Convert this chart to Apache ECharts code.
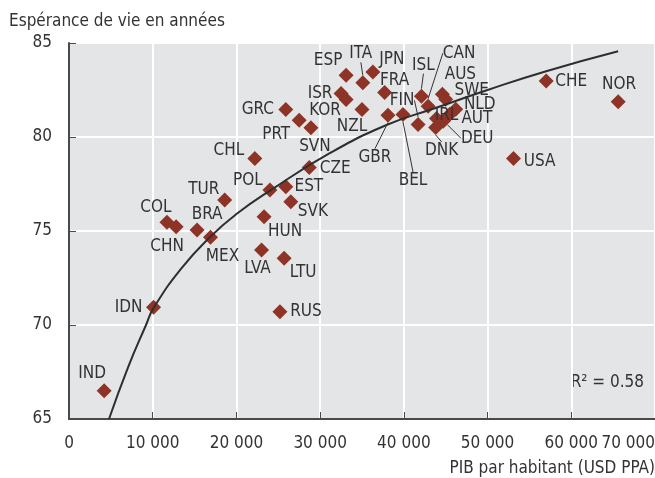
<!DOCTYPE html>
<html>
<head>
<meta charset="utf-8">
<script src="https://cdn.jsdelivr.net/npm/echarts@6/dist/echarts.min.js"></script>
<style>
  html, body { margin: 0; padding: 0; background: #fff; }
  #chart { width: 655px; height: 478px; }
</style>
</head>
<body>
<div id="chart"></div>
<script>
// country codes, GDP per capita (USD PPP) and life expectancy
const countries = ['IND', 'IDN', 'COL', 'CHN', 'BRA', 'MEX', 'TUR', 'CHL', 'POL', 'EST', 'SVK',
  'HUN', 'LVA', 'LTU', 'RUS', 'CZE', 'SVN', 'PRT', 'GRC', 'ISR', 'KOR', 'NZL', 'ESP', 'ITA',
  'JPN', 'FRA', 'GBR', 'BEL', 'FIN', 'ISL', 'CAN', 'AUS', 'SWE', 'NLD', 'AUT', 'IRL', 'DEU',
  'DNK', 'CHE', 'NOR', 'USA'];
const gdp = [4200, 10100, 11700, 12800, 15300, 16900, 18600, 22200, 24000, 25900, 26500,
  23300, 23000, 25700, 25200, 28700, 28900, 27500, 25900, 32500, 33100, 35000, 33100, 35100,
  36300, 37700, 38100, 39900, 41700, 42100, 42900, 44600, 45000, 46200, 45500, 43900, 44700,
  43800, 57000, 65600, 53100];
const lifeExp = [66.5, 70.95, 75.46, 75.23, 75.05, 74.67, 76.65, 78.86, 77.18, 77.35, 76.56,
  75.76, 73.99, 73.55, 70.71, 78.38, 80.49, 80.89, 81.46, 82.31, 81.99, 81.46, 83.28, 82.88,
  83.46, 82.37, 81.16, 81.2, 80.67, 82.17, 81.64, 82.28, 82.01, 81.48, 81.21, 80.99, 80.84,
  80.51, 82.98, 81.87, 78.86];

// trend curve, points
const trendGdp = [4780, 7100, 9200, 10100, 13400, 16900, 20000, 24200, 31200, 38000, 43500, 50000, 57000, 65600];
const trendLife = [65, 67.8, 70, 70.9, 73, 74.7, 75.9, 77.2, 79.15, 80.65, 81.5, 82.5, 83.5, 84.56];

const rSquared = '0.58';

// label placement (pixel offset of the label centre from the marker)
const labelOffset = {
  IND: [-12, -17], IDN: [-25, 0], COL: [-11, -15], CHN: [-9, 20], BRA: [10, -15],
  MEX: [12, 19], TUR: [-21, -10], CHL: [-26, -8], POL: [-22, -9], EST: [23, 0],
  SVK: [22, 10], HUN: [21, 15], LVA: [-4, 19], LTU: [19, 14], RUS: [26, 0],
  CZE: [26, 1], SVN: [4, 19], PRT: [-23, 14], GRC: [-28, 0], ISR: [-21, 0],
  KOR: [-21, 11], NZL: [-10, 17], ESP: [-18, -15], ITA: [-2, -29], JPN: [19, -12],
  FRA: [10, -12], GBR: [-13, 42], BEL: [10, 66], FIN: [-16, -24], ISL: [2, -31],
  CAN: [31, -53], AUS: [18, -20], SWE: [26, -9], NLD: [24, -5], AUT: [27, 4],
  IRL: [10, -3], DEU: [34, 17], DNK: [6, 23], CHE: [25, 1], NOR: [1, -17], USA: [26, 3]
};
const withLeader = ['ITA', 'GBR', 'BEL', 'FIN', 'ISL', 'CAN', 'DEU', 'DNK'];

const FONT = "'Liberation Sans Narrow', 'DejaVu Sans Condensed', sans-serif";
const FS = 17;
const TEXT = '#333333';
const AXIS = '#4a4a4a';

function fmtThousands(v) {
  return String(v).replace(/\B(?=(\d{3})+(?!\d))/g, ' ');
}

const chart = echarts.init(document.getElementById('chart'));

const points = countries.map((c, i) => ({
  name: c,
  value: [gdp[i], lifeExp[i]],
  labelLine: { show: withLeader.includes(c) }
}));

chart.setOption({
  animation: false,
  textStyle: { fontFamily: FONT },
  grid: {
    left: 69, right: 0, top: 43, bottom: 59,
    show: true, backgroundColor: '#e4e5e7', borderWidth: 0,
    outerBoundsMode: 'none'
  },
  xAxis: {
    type: 'value', min: 0, max: 70000, interval: 10000,
    axisLine: { show: true, onZero: false, lineStyle: { color: AXIS, width: 2 } },
    axisTick: { show: true, inside: true, length: 7, lineStyle: { color: AXIS, width: 1 } },
    splitLine: { show: true, lineStyle: { color: '#fff', width: 2 } },
    axisLabel: {
      color: TEXT, fontSize: FS, fontFamily: FONT, margin: 16,
      formatter: fmtThousands, showMaxLabel: true, alignMaxLabel: 'right', hideOverlap: false
    }
  },
  yAxis: {
    type: 'value', min: 65, max: 85, interval: 5,
    axisLine: { show: true, onZero: false, lineStyle: { color: AXIS, width: 2 } },
    axisTick: { show: true, inside: true, length: 7, lineStyle: { color: AXIS, width: 1 } },
    splitLine: { show: true, lineStyle: { color: '#fff', width: 2 } },
    axisLabel: { color: TEXT, fontSize: FS, fontFamily: FONT, margin: 17 }
  },
  graphic: [
    {
      type: 'text', left: 9, top: 13,
      style: { text: 'Espérance de vie en années', fill: TEXT, font: FS + 'px ' + FONT }
    },
    {
      type: 'text', right: 0, top: 460,
      style: { text: 'PIB par habitant (USD PPA)', fill: TEXT, font: FS + 'px ' + FONT }
    },
    {
      type: 'text', right: 11, top: 374,
      style: { text: 'R² = ' + rSquared, fill: TEXT, font: FS + 'px ' + FONT }
    }
  ],
  series: [
    {
      type: 'scatter',
      symbol: 'diamond',
      symbolSize: 15,
      itemStyle: { color: '#8e3426', opacity: 1 },
      data: points,
      label: {
        show: true, position: 'inside',
        formatter: p => p.name,
        color: TEXT, fontSize: FS, fontFamily: FONT
      },
      labelLine: { show: false, lineStyle: { color: '#333333', width: 1 } },
      labelLayout: params => {
        const off = labelOffset[countries[params.dataIndex]] || [0, 0];
        const r = params.rect;
        return {
          x: r.x + r.width / 2 + off[0],
          y: r.y + r.height / 2 + off[1],
          align: 'center',
          verticalAlign: 'middle'
        };
      },
      z: 2
    },
    {
      type: 'line',
      data: trendGdp.map((g, i) => [g, trendLife[i]]),
      smooth: true,
      showSymbol: false,
      silent: true,
      lineStyle: { color: '#2e2e2e', width: 2 },
      z: 3
    }
  ]
});
</script>
</body>
</html>
